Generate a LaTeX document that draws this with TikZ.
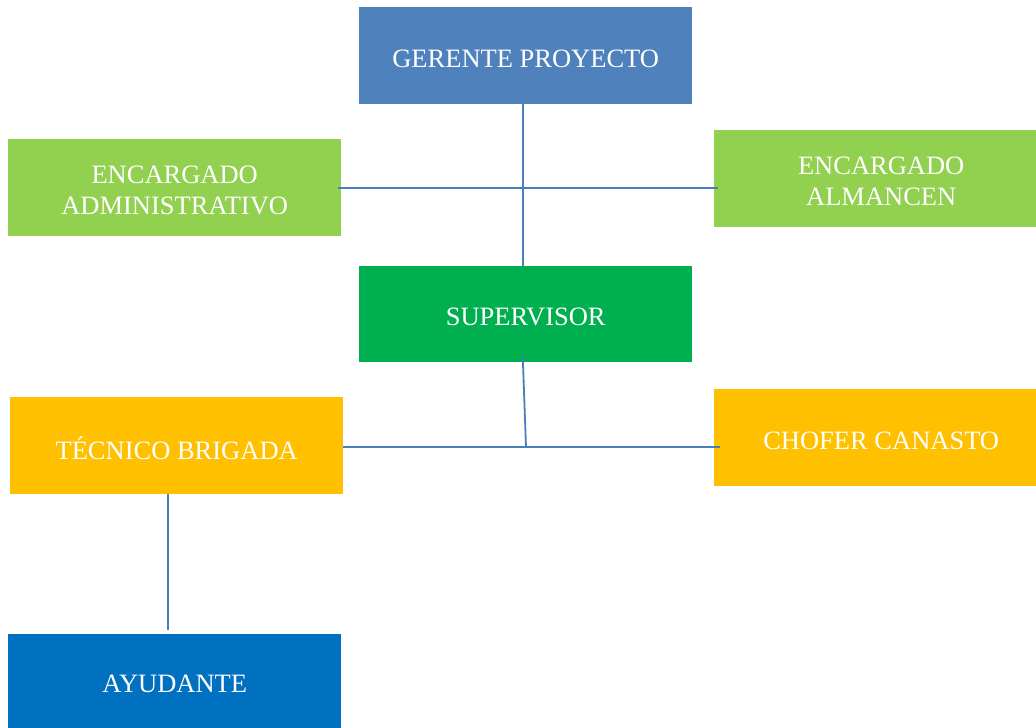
\documentclass[tikz,border=0pt]{standalone}
\usepackage{fontspec}
\setmainfont{Liberation Serif}
\definecolor{cblue}{HTML}{4F81BD}
\definecolor{cgreen}{HTML}{92D050}
\definecolor{cdgreen}{HTML}{00B050}
\definecolor{cyellow}{HTML}{FFC000}
\definecolor{cdblue}{HTML}{0070C0}
\definecolor{cline}{HTML}{4A7EBB}
\begin{document}
\begin{tikzpicture}[x=1pt, y=1pt,
		box/.style={anchor=north west, inner sep=0pt, minimum width=333pt, minimum height=97pt},
		caption/.style={text=white, align=center, inner sep=0pt, yshift=-3pt,
			font=\fontsize{26.5}{31}\selectfont},
		link/.style={cline, line width=1.8pt}]
		\useasboundingbox [fill=white] (0, 0) rectangle (1036, -728);
		\node [box, fill=cblue, label={[caption]center:GERENTE PROYECTO}] (gerente) at (359, -7) {};
		\node [box, fill=cgreen, label={[caption]center:ENCARGADO\\ADMINISTRATIVO}] (admin) at (8, -139) {};
		\node [box, fill=cgreen, minimum width=322pt, label={[caption, xshift=6pt]center:ENCARGADO\\ALMANCEN}] (almacen) at (714, -130) {};
		\node [box, fill=cdgreen, minimum height=96pt, label={[caption]center:SUPERVISOR}] (supervisor) at (359, -266) {};
		\node [box, fill=cyellow, label={[caption]center:TÉCNICO BRIGADA}] (tecnico) at (10, -397) {};
		\node [box, fill=cyellow, minimum width=322pt, label={[caption, xshift=6pt]center:CHOFER CANASTO}] (chofer) at (714, -389) {};
		\node [box, fill=cdblue, minimum height=94pt, label={[caption]center:AYUDANTE}] (ayudante) at (8, -634) {};
		% connectors
		\draw [link] ([xshift=-3pt]gerente.south) -- ([xshift=-3pt]supervisor.north);
		\draw [link] ([xshift=-3pt]admin.east) -- ([xshift=4pt]admin.east -| almacen.west);
		\coordinate (junction) at (526, -447);
		\draw [link] ([xshift=-3pt, yshift=7pt]supervisor.south) -- (junction);
		\draw [link] ([yshift=-1.5pt]tecnico.east) -- ([yshift=-1.5pt, xshift=6pt]tecnico.east -| chofer.west);
		\draw [link] ([xshift=-8.5pt]tecnico.south) -- ([xshift=-6.5pt, yshift=4pt]ayudante.north);
	\end{tikzpicture}
\end{document}
